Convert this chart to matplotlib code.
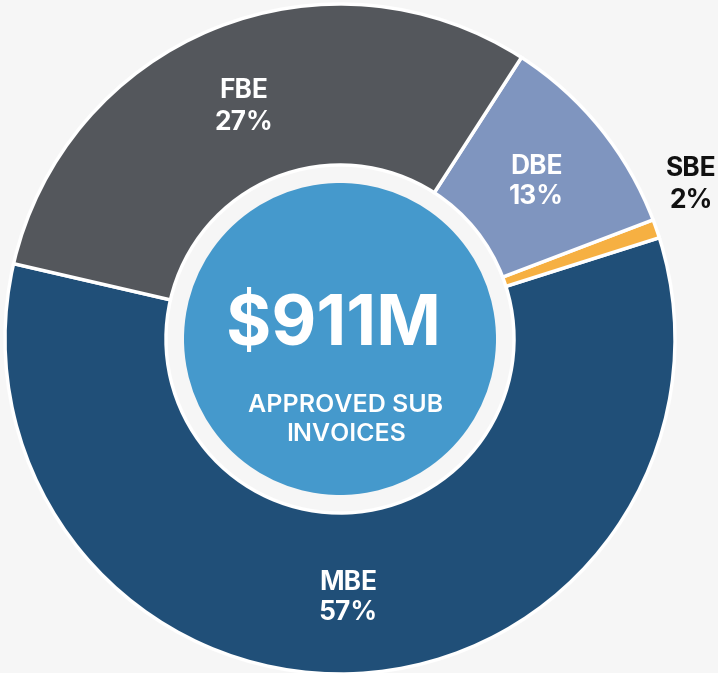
import matplotlib
matplotlib.use("Agg")
import matplotlib.pyplot as plt
from matplotlib.patches import Circle

# Data
categories = ["MBE", "SBE", "DBE", "FBE"]
shares = [58.5, 0.9, 10.1, 30.5]          # wedge sizes as drawn
pct_labels = ["57%", "2%", "13%", "27%"]  # labels as printed
colors = ["#204f78", "#f6b042", "#7f95bf", "#54575c"]
total_text = "$911M"
sub_text = "APPROVED SUB\nINVOICES"

W, H = 718, 673
fig = plt.figure(figsize=(W / 100, H / 100), dpi=100)
bg = "#f6f6f6"
fig.patch.set_facecolor(bg)
ax = fig.add_axes([0, 0, 1, 1])
ax.set_facecolor(bg)

cx, cy = 340, H - 339
R = 335
ax.pie(shares, colors=colors, startangle=167, counterclock=True,
       center=(cx, cy), radius=R, frame=True,
       wedgeprops=dict(width=R - 174, edgecolor="white", linewidth=2.5))
ax.set_xlim(0, W)
ax.set_ylim(0, H)
ax.set_aspect("equal")
ax.axis("off")

ax.add_patch(Circle((cx, cy), 156, facecolor="#4599cc", edgecolor="none", zorder=5))

font = ["Inter", "DejaVu Sans"]
lab_pos = {"MBE": (348, 598), "SBE": (691, 185), "DBE": (536, 182), "FBE": (244, 107)}
for cat, pl in zip(categories, pct_labels):
    x, ypix = lab_pos[cat]
    col = "#111111" if cat == "SBE" else "white"
    ax.text(x, H - ypix, f"{cat}\n{pl}", ha="center", va="center", color=col,
            fontsize=19, fontweight="bold", family=font, linespacing=1.25, zorder=6)

ax.text(333, H - 326, total_text, ha="center", va="center", color="white",
        fontsize=50, fontweight="bold", family=font, zorder=6)
ax.text(346, H - 420, sub_text, ha="center", va="center", color="white",
        fontsize=18, fontweight="semibold", family=font, linespacing=1.35, zorder=6)

fig.savefig("out.png", dpi=100, facecolor=bg)
